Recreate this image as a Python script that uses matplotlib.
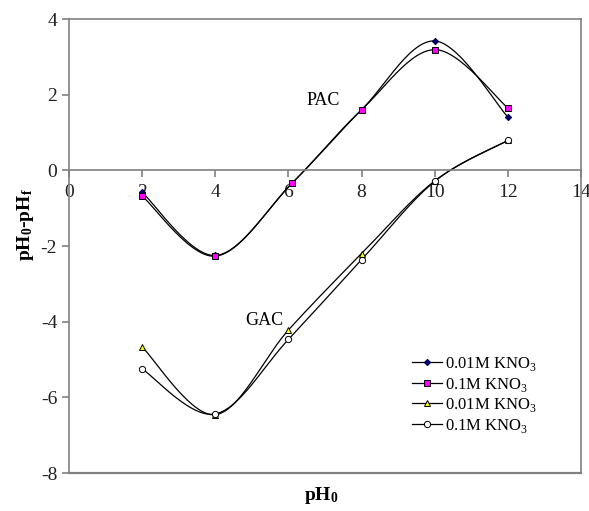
import numpy as np
import matplotlib
matplotlib.use("Agg")
import matplotlib.pyplot as plt

plt.rcParams['font.family'] = ['Liberation Serif', 'DejaVu Serif']
plt.rcParams['mathtext.fontset'] = 'custom'
plt.rcParams['mathtext.rm'] = 'Liberation Serif'
plt.rcParams['mathtext.bf'] = 'Liberation Serif:bold'
plt.rcParams['axes.unicode_minus'] = False

# PAC, point of zero charge titration
pac_x = [2, 4, 6.1, 8, 10, 12]
pac_001 = [-0.58, -2.25, -0.34, 1.6, 3.42, 1.41]
pac_01 = [-0.68, -2.27, -0.34, 1.6, 3.19, 1.65]

# GAC
gac_x = [2, 4, 6, 8, 10, 12]
gac_001 = [-4.67, -6.46, -4.22, -2.2, -0.28, 0.79]
gac_01 = [-5.25, -6.44, -4.47, -2.36, -0.29, 0.79]


def smooth(x, y, n=30):
    # bezier through the points, control handles from neighbours (spreadsheet-style smoothing)
    x = np.asarray(x, float)
    y = np.asarray(y, float)
    px = np.concatenate([[x[0]], x, [x[-1]]])
    py = np.concatenate([[y[0]], y, [y[-1]]])
    xs, ys = [], []
    t = np.linspace(0, 1, n)
    for i in range(1, len(px) - 2):
        p0 = np.array([px[i], py[i]])
        p3 = np.array([px[i + 1], py[i + 1]])
        p1 = p0 + (np.array([px[i + 1], py[i + 1]]) - np.array([px[i - 1], py[i - 1]])) / 6
        p2 = p3 - (np.array([px[i + 2], py[i + 2]]) - np.array([px[i], py[i]])) / 6
        b = ((1 - t) ** 3)[:, None] * p0 + (3 * (1 - t) ** 2 * t)[:, None] * p1 \
            + (3 * (1 - t) * t ** 2)[:, None] * p2 + (t ** 3)[:, None] * p3
        xs.append(b[:, 0])
        ys.append(b[:, 1])
    return np.concatenate(xs), np.concatenate(ys)


fig = plt.figure(figsize=(5.89, 5.11), dpi=100)
ax = fig.add_axes([69 / 589, 1 - 473 / 511, 512 / 589, 454 / 511])

series = [
    (pac_x, pac_001, dict(marker='D', markersize=3.2, markerfacecolor='#000080', markeredgecolor='#000040'), '0.01M KNO$_3$'),
    (pac_x, pac_01, dict(marker='s', markersize=4.8, markerfacecolor='#ff00ff', markeredgecolor='black'), '0.1M KNO$_3$'),
    (gac_x, gac_001, dict(marker='^', markersize=4.8, markerfacecolor='#ffff00', markeredgecolor='black'), '0.01M KNO$_3$'),
    (gac_x, gac_01, dict(marker='o', markersize=4.5, markerfacecolor='white', markeredgecolor='black'), '0.1M KNO$_3$'),
]
for x, y, mk, lab in series:
    sx, sy = smooth(x, y)
    ax.plot(sx, sy, color='black', lw=0.9, zorder=2)
    ax.plot(x, y, linestyle='none', markeredgewidth=0.7, zorder=3, **mk)
    ax.plot([], [], color='black', lw=0.9, markeredgewidth=0.7, label=lab, **mk)

ax.set_xlim(0, 14)
ax.set_ylim(-8, 4)
ax.set_xticks(range(0, 15, 2))
ax.set_yticks(range(-8, 5, 2))

gray = '#808080'
for side in ['left', 'right', 'top', 'bottom']:
    ax.spines[side].set_color(gray)
    ax.spines[side].set_linewidth(1.2)
ax.spines['bottom'].set_position(('data', 0))
ax.plot([0, 1], [0, 0], transform=ax.transAxes, color=gray, lw=1.6, clip_on=False)
ax.tick_params(axis='both', colors=gray, labelcolor='#202020', labelsize=14, width=1.2, length=5)
ax.tick_params(axis='x', direction='out', pad=5)

ax.text(6.95, 1.85, 'PAC', fontsize=13, ha='center', va='center')
ax.text(5.35, -3.97, 'GAC', fontsize=13, ha='center', va='center')

fig.text(25 / 589, 1 - 225 / 511, r'$\mathbf{pH_0}$-$\mathbf{pH_f}$', rotation=90, fontsize=14,
         fontweight='bold', ha='center', va='center')
fig.text(321 / 589, 1 - 495 / 511, r'$\mathbf{pH_0}$', fontsize=14, ha='center', va='center')

ax.legend(loc='lower right', bbox_to_anchor=(0.93, 0.066), frameon=False, fontsize=12,
          handlelength=1.8, handletextpad=0.2, labelspacing=0.15, borderpad=0)

fig.savefig('out.png', dpi=100)
